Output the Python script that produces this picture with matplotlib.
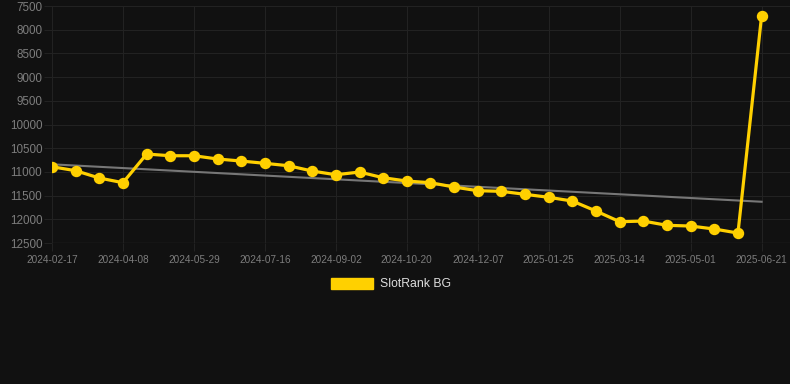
import matplotlib.pyplot as plt

plt.rcParams['font.family'] = ['Liberation Sans', 'DejaVu Sans']

# rank values (lower rank number = better, axis reversed)
ranks = [10891, 10975, 11129, 11228, 10623, 10659, 10659, 10728, 10771, 10819,
         10870, 10982, 11060, 11003, 11123, 11193, 11228, 11319, 11397, 11410,
         11473, 11536, 11615, 11826, 12051, 12037, 12127, 12142, 12205, 12290,
         7705]
tick_labels = ['2024-02-17', '2024-04-08', '2024-05-29', '2024-07-16',
               '2024-09-02', '2024-10-20', '2024-12-07', '2025-01-25',
               '2025-03-14', '2025-05-01', '2025-06-21']
trend_ends = [10840, 11630]
y_ticks = [7500, 8000, 8500, 9000, 9500, 10000, 10500, 11000, 11500, 12000, 12500]

bg = '#111111'
gold = '#FFD000'
grid_c = '#222222'

fig = plt.figure(figsize=(7.9, 3.84), dpi=100, facecolor=bg)
ax = fig.add_axes([52 / 790, 1 - 243 / 384, (790 - 52) / 790, (243 - 6) / 384])
ax.set_facecolor(bg)

x = list(range(len(ranks)))
ax.plot([x[0], x[-1]], trend_ends, color='#777777', lw=1.5, zorder=2)
ax.plot(x, ranks, color=gold, lw=2.3, marker='o', markersize=7.2,
        label='SlotRank BG', zorder=3)

ax.set_ylim(12500, 7500)
ax.set_xlim(0, 31.2)
ax.set_yticks(y_ticks)
ax.set_yticklabels([str(v) for v in y_ticks])
ax.set_xticks(x[::3])
ax.set_xticklabels(tick_labels)
ax.tick_params(axis='y', colors=grid_c, labelcolor='#7d7d7d', labelsize=8.4,
               length=6, width=0.8, pad=1)
ax.tick_params(axis='x', colors=grid_c, labelcolor='#7d7d7d', labelsize=7.2,
               length=6, width=0.8, pad=2.5)
ax.grid(True, color=grid_c, lw=0.8)
for s in ax.spines.values():
    s.set_visible(False)
ax.axhline(12500, color='#2a2a2a', lw=1, zorder=1)

handle = plt.Rectangle((0, 0), 1, 1, color=gold)
fig.legend([handle], ['SlotRank BG'], loc='center', bbox_to_anchor=(391 / 790, 1 - 284 / 384),
           frameon=False, labelcolor='#dddddd', fontsize=8.8, handlelength=3.4,
           handleheight=1.0, handletextpad=0.55)

fig.savefig('out.png', dpi=100, facecolor=bg)
